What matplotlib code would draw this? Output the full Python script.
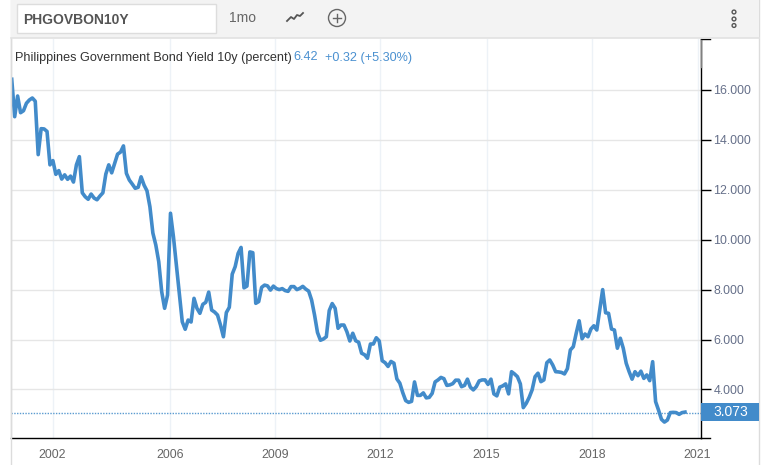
import matplotlib
matplotlib.use("Agg")
import matplotlib.pyplot as plt
from matplotlib.lines import Line2D
from matplotlib.patches import Rectangle, Circle

plt.rcParams['font.family'] = ['Liberation Sans', 'DejaVu Sans']

W, H = 769, 465

yields_a = [16.43, 14.93, 15.76, 15.09, 15.17, 15.47, 15.60, 15.68, 15.55, 13.41, 14.45, 14.44, 14.34, 13.00,
            13.17, 12.62, 12.77, 12.43, 12.60, 12.42, 12.55, 12.31, 13.00, 13.33, 11.88, 11.72, 11.62, 11.83,
            11.67, 11.60, 11.75, 11.88, 12.63, 13.00, 12.68, 13.06, 13.43, 13.51, 13.76, 12.66, 12.39, 12.23,
            12.06, 12.10, 12.52, 12.19, 11.96, 11.32, 10.27, 9.79, 9.12, 7.92, 7.25, 7.78, 11.06, 10.12, 8.99,
            7.85, 6.71, 6.41, 6.78, 6.70, 7.65, 7.25, 7.05, 7.41, 7.49, 7.90, 7.18, 7.10, 6.98, 6.58, 6.11]
yields_b = [7.08, 7.29, 8.62, 8.92, 9.45, 9.69, 8.07, 8.14, 9.51, 9.48, 7.45, 7.52, 8.09, 8.18, 8.15, 7.98,
            8.14, 8.04, 8.00, 8.04, 7.96, 7.93, 8.12, 8.12, 8.00, 8.05, 8.13, 8.02, 7.94, 7.58, 6.98, 6.28,
            5.97, 6.02, 6.11, 7.16, 7.44, 7.25, 6.45, 6.58, 6.58, 6.31, 5.94, 6.25, 5.95, 5.89, 5.45, 5.39,
            5.25, 5.82, 5.82, 6.07, 5.94, 5.15, 5.07, 4.92, 5.12, 5.05, 4.42, 4.25, 3.87, 3.55, 3.48, 3.52,
            4.30, 3.76, 3.76, 3.86, 3.66, 3.68, 3.84, 4.30, 4.38, 4.48, 4.43, 4.16, 4.18, 4.23, 4.37, 4.37,
            4.11, 4.16, 4.41, 4.09, 3.98, 4.11, 4.34, 4.38, 4.38, 4.20, 4.41, 3.82, 3.74, 4.09, 4.14, 4.22, 3.82]
yields_c = [4.71, 4.62, 4.51, 4.22, 3.27, 3.44, 3.68, 3.98, 4.51, 4.65, 4.31, 4.38, 5.07, 5.18, 4.98, 4.71,
            4.70, 4.68, 4.62, 4.83, 5.58, 5.71, 6.25, 6.75, 6.03, 6.22, 6.11, 6.42, 6.55, 6.38, 7.18, 8.00,
            7.07, 7.05, 6.42, 6.38, 5.65, 6.05, 5.65, 5.05, 4.71, 4.41, 4.71, 4.55, 4.73, 4.44, 4.58, 4.35,
            5.11, 3.51, 3.17, 2.80, 2.69, 2.77, 3.07, 3.08, 3.07, 3.00, 3.07, 3.09]
yields = yields_a + yields_b + yields_c
months = list(range(len(yields)))

year_labels = ['2002', '2006', '2009', '2012', '2015', '2018', '2021']
year_months = [13.9, 53.8, 89.6, 125.4, 161.5, 197.4, 233.3]
value_ticks = [4, 6, 8, 10, 12, 14, 16]
last_value = 3.073
series_name = 'Philippines Government Bond Yield 10y (percent)'
quote = ['6.42', '+0.32', '(+5.30%)']
symbol = 'PHGOVBON10Y'
period = '1mo'


def fx(p):
    return p / W


def fy(p):
    return 1 - p / H


fig = plt.figure(figsize=(W / 100, H / 100), dpi=100, facecolor='white')

# plot area: px 11..700 horizontally, 39..438 vertically
ax = fig.add_axes([fx(11), fy(438), (700.5 - 11) / W, (438 - 39) / H])
ax.set_facecolor('white')
px_per_month = 2.94
ax.set_xlim(-0.25, -0.25 + (700.5 - 11) / px_per_month)
ax.set_ylim(16 - (438 - 90) / 24.95, 16 + (90 - 39) / 24.95)

ax.set_axisbelow(True)
ax.set_xticks(year_months, year_labels)
ax.set_yticks(value_ticks, [f'{v:.3f}' for v in value_ticks])
ax.yaxis.tick_right()
ax.grid(axis='y', color='#e6e6e6', lw=1)
ax.grid(axis='x', color='#edf2f7', lw=1)
ax.tick_params(axis='y', length=7.2, width=1, color='black', labelsize=8.9, labelcolor='#66708a', pad=2)
ax.tick_params(axis='x', length=0, labelsize=8.9, labelcolor='#666666', pad=8)
for s in ['top']:
    ax.spines[s].set_visible(False)
ax.spines['left'].set_color('#d8d8d8')
ax.spines['left'].set_linewidth(1)
ax.spines['right'].set_color('black')
ax.spines['right'].set_linewidth(1)
ax.spines['bottom'].set_color('black')
ax.spines['bottom'].set_linewidth(1)

ax.axhline(last_value, color='#5b9bd0', lw=1, ls=(0, (1, 1)), zorder=2)
ax.plot(months, yields, color='#428bca', lw=2.6, solid_joinstyle='round', zorder=3)

# end-value flag
fig.add_artist(Rectangle((fx(701), fy(421)), 58 / W, 18 / H, transform=fig.transFigure,
                         facecolor='#428bca', edgecolor='none', zorder=5))
fig.text(fx(730.5), fy(412), f'{last_value:.3f}', color='white', fontsize=10,
         ha='center', va='center', zorder=6)

# right-hand small end ticks
for yy in (39, 438):
    fig.add_artist(Line2D([fx(701), fx(710)], [fy(yy), fy(yy)], color='black', lw=1,
                          transform=fig.transFigure, zorder=4))
fig.add_artist(Line2D([fx(700.5), fx(700.5)], [fy(40), fy(67)], color='#808080', lw=1,
                      transform=fig.transFigure, zorder=4))

# frame lines of the widget
fig.add_artist(Line2D([fx(759), fx(759)], [0, 1], color='#dcdcdc', lw=1, transform=fig.transFigure))
fig.add_artist(Line2D([fx(10.5), fx(10.5)], [0, 1], color='#dcdcdc', lw=1, transform=fig.transFigure))

# toolbar
fig.add_artist(Rectangle((fx(11), fy(38)), 748 / W, 38 / H, transform=fig.transFigure,
                         facecolor='#f3f3f3', edgecolor='none', zorder=3))
fig.add_artist(Line2D([fx(11), fx(759)], [fy(38.5), fy(38.5)], color='#e2e2e2', lw=1.2,
                      transform=fig.transFigure, zorder=4))
fig.add_artist(Rectangle((fx(16.5), fy(33)), 199 / W, 28.5 / H, transform=fig.transFigure,
                         facecolor='white', edgecolor='#dddddd', lw=1, zorder=4))
fig.text(fx(23.5), fy(20), symbol, fontsize=10, fontweight='bold', color='#555555', va='center', zorder=5)
fig.text(fx(229), fy(18.5), period, fontsize=10, color='#666666', va='center', zorder=5)

glyph_x = [287, 291, 294, 297, 300, 303]
glyph_y = [21, 17, 19, 15, 16, 13]
fig.add_artist(Line2D([fx(p) for p in glyph_x], [fy(p) for p in glyph_y], color='#555555', lw=1.3,
                      transform=fig.transFigure, zorder=5))
cx, cy, r = 337, 18, 8.5
t = fig.dpi_scale_trans
fig.add_artist(Circle((cx / 100, (H - cy) / 100), r / 100, transform=t, facecolor='none',
                      edgecolor='#666666', lw=1, zorder=5))
fig.add_artist(Line2D([fx(cx - 4), fx(cx + 4)], [fy(cy), fy(cy)], color='#666666', lw=1,
                      transform=fig.transFigure, zorder=5))
fig.add_artist(Line2D([fx(cx), fx(cx)], [fy(cy - 4), fy(cy + 4)], color='#666666', lw=1,
                      transform=fig.transFigure, zorder=5))
for dy in (12, 19, 25.5):
    fig.add_artist(Circle((734 / 100, (H - dy) / 100), 1.9 / 100, transform=t, facecolor='none',
                          edgecolor='#555555', lw=1, zorder=5))

# series header
fig.text(fx(15), fy(57.5), series_name, fontsize=9.08, color='#333333', va='center', zorder=6)
fig.text(fx(293), fy(57.5), quote[0], fontsize=9.08, color='#4a90d0', va='center', zorder=6)
fig.text(fx(325), fy(57.5), quote[1] + ' ' + quote[2], fontsize=9.08, color='#4a90d0', va='center', zorder=6)

fig.savefig('out.png', dpi=100, facecolor='white')
